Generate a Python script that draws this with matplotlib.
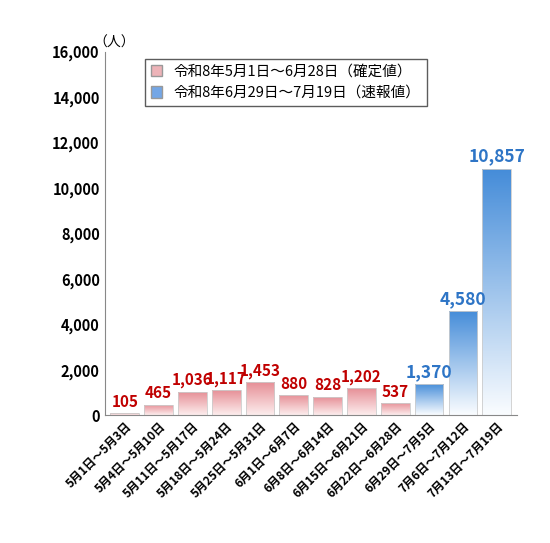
import matplotlib
matplotlib.use("Agg")
import matplotlib.pyplot as plt
import numpy as np
from matplotlib.patches import Patch

plt.rcParams['font.family'] = ['Noto Sans CJK JP', 'DejaVu Sans']

categories = ["5月1日～5月3日","5月4日～5月10日","5月11日～5月17日","5月18日～5月24日","5月25日～5月31日",
              "6月1日～6月7日","6月8日～6月14日","6月15日～6月21日","6月22日～6月28日",
              "6月29日～7月5日","7月6日～7月12日","7月13日～7月19日"]
values = [105, 465, 1036, 1117, 1453, 880, 828, 1202, 537, 1370, 4580, 10857]
confirmed_count = 9
label_names = ["令和8年5月1日～6月28日（確定値）", "令和8年6月29日～7月19日（速報値）"]

red_top, red_bot = np.array([0.90, 0.55, 0.58]), np.array([0.99, 0.93, 0.93])
blue_top, blue_bot = np.array([0.27, 0.55, 0.85]), np.array([0.98, 0.99, 1.0])

fig = plt.figure(figsize=(5.5, 5.43), dpi=100)
ax = fig.add_axes([0.19, 0.235, 0.75, 0.67])
x = np.arange(len(values))
w = 0.85
bars = ax.bar(x, values, width=w, color='none', edgecolor='#cccccc', linewidth=0.6, zorder=2)
for i, (b, v) in enumerate(zip(bars, values)):
    top, bot = (red_top, red_bot) if i < confirmed_count else (blue_top, blue_bot)
    grad = np.linspace(0, 1, 100)[:, None]
    img = top[None, :] * (1 - grad[..., None]) + bot[None, :] * grad[..., None]
    img = np.repeat(img, 2, axis=1)
    im = ax.imshow(img, extent=[b.get_x(), b.get_x() + w, 0, v], aspect='auto', zorder=1, origin='upper')
    im.set_clip_path(b)
    col = '#c00000' if i < confirmed_count else '#2e75c6'
    fs = 11 if i < confirmed_count else 12.5
    ax.text(x[i], v + 150, f"{v:,}", ha='center', va='bottom', color=col, fontsize=fs, fontweight='bold', zorder=3)

ax.set_xlim(-0.6, len(values) - 0.4)
ax.set_ylim(0, 16000)
ax.set_yticks(range(0, 16001, 2000))
ax.set_yticklabels([f"{t:,}" for t in range(0, 16001, 2000)], fontsize=10.5, fontweight='bold')
ax.set_xticks(x)
ax.set_xticklabels(categories, rotation=45, ha='right', rotation_mode='anchor', fontsize=8.5, fontweight='bold')
ax.tick_params(axis='x', length=0)
ax.tick_params(axis='y', length=0)
for s in ['top', 'right']:
    ax.spines[s].set_visible(False)
ax.spines['left'].set_color('#888888')
ax.spines['bottom'].set_color('#888888')
ax.text(-0.3, 16100, "（人）", ha='center', va='bottom', fontsize=10)

handles = [Patch(facecolor=(0.93, 0.7, 0.72), edgecolor='#999999'),
           Patch(facecolor=(0.45, 0.65, 0.9), edgecolor='#999999')]
leg = ax.legend(handles, label_names, loc='upper left', bbox_to_anchor=(0.08, 1.0), fontsize=10.5,
                frameon=True, fancybox=False, edgecolor='#333333', handlelength=0.8, handleheight=0.8)
fig.savefig("out.png", dpi=100)
